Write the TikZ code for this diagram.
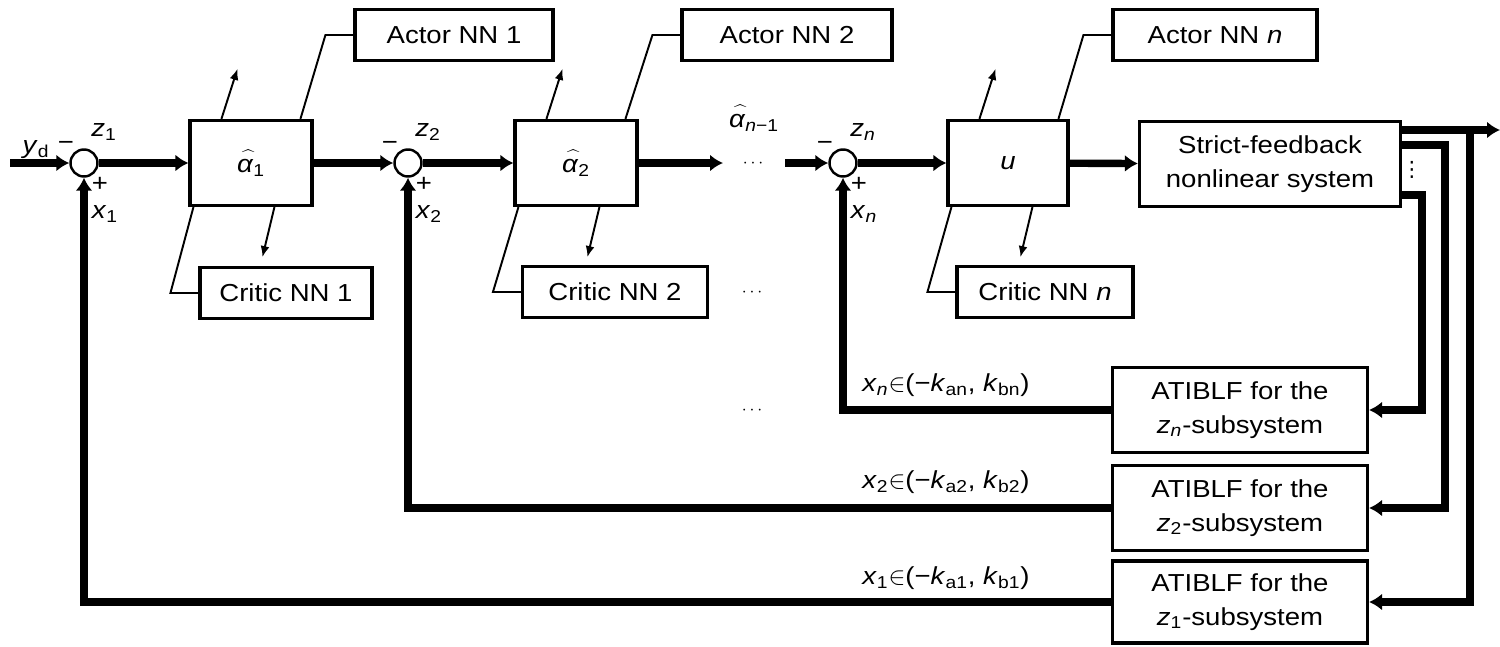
\documentclass[tikz,border=0pt]{standalone}
\usepackage{fontspec}
\usepackage{graphicx}
\setmainfont[FakeStretch=1.12]{Liberation Sans}
\newfontfamily\symfont{DejaVu Sans}
\usetikzlibrary{calc,positioning,arrows.meta}

\newcommand{\ahat}[1]{\rlap{\hspace{0.06em}\raisebox{0.16em}{\scalebox{1.25}[1]{$\widehat{\phantom{\mbox{\itshape α}}}$}}}\textit{α}\textsubscript{#1}}
\newcommand{\vsub}[2]{\textit{#1}\textsubscript{#2}}
\newcommand{\range}[3]{\vsub{x}{#1}$\in$(−\vsub{k}{#2}, \vsub{k}{#3})}
\newcommand{\hdots}{{\fontsize{10}{10}\selectfont$\cdots$}}

\tikzset{
   block/.style={ rectangle, draw=black, line width=1.8pt, minimum height=1.7cm, inner sep=0pt, text centered},
   nnbox/.style={ rectangle, draw=black, line width=1.8pt, minimum height=1.02cm, inner sep=0pt, text centered},
   sumnode/.style={ circle, draw=black, line width=1.4pt, minimum size=0.54cm, inner sep=0pt},
   signal/.style={ line width=4.2pt, -{Latex[length=0.26cm,width=0.34cm]}},
   nnline/.style={ line width=1.1pt},
   nnarrow/.style={ line width=1.1pt, -{Latex[length=0.22cm,width=0.18cm]}},
   lbl/.style={ inner sep=0pt}
}

\begin{document}
\begin{tikzpicture}[x=0.02cm, y=-0.02cm, font=\fontsize{14}{19}\selectfont]
  \useasboundingbox (0,0) rectangle (1500,646);

  % forward path
  \node[sumnode] at (84,163)   (s1) {};
  \node[block, minimum width=2.44cm] at (251,163) (a1) {\ahat{1}};
  \node[nnbox, minimum width=3.96cm] at (454,35)  (actor1)  {Actor NN 1};
  \node[nnbox, minimum width=3.44cm] at (286,293) (critic1) {Critic NN 1};

  \node[sumnode] at (408,163)  (s2) {};
  \node[block, minimum width=2.44cm] at (576,163) (a2) {\ahat{2}};
  \node[nnbox, minimum width=4.2cm]  at (787,35)  (actor2)  {Actor NN 2};
  \node[nnbox, minimum width=3.7cm]  at (615,292) (critic2) {Critic NN 2};

  \node[sumnode] at (843,163)  (sn) {};
  \node[block, minimum width=2.4cm]  at (1008,163) (u) {\textit{u}};
  \node[nnbox, minimum width=4.08cm] at (1215,35)  (actorn)  {Actor NN \textit{n}};
  \node[nnbox, minimum width=3.52cm] at (1045,292) (criticn) {Critic NN \textit{n}};

  \node[block, minimum width=5.22cm, align=center] at (1270,164) (plant) {Strict-feedback\\nonlinear system};

  % barrier blocks
  \node[block, minimum width=5.1cm, align=center] at (1240,410) (blfn) {ATIBLF for the\\\vsub{z}{\textit{n}}-subsystem};
  \node[block, minimum width=5.1cm, align=center] at (1240,508) (blf2) {ATIBLF for the\\\vsub{z}{2}-subsystem};
  \node[block, minimum width=5.1cm, minimum height=1.64cm, align=center] at (1240,602) (blf1) {ATIBLF for the\\\vsub{z}{1}-subsystem};

  % labels
  \node[lbl] at (36,150) (ydlbl) {\vsub{y}{d}};
  \foreach \s/\k in {s1/1, s2/2, sn/\textit{n}}{
    \node[lbl] at ($(\s)+(-18,-17)$) (\s-minus) {−};
    \node[lbl] at ($(\s)+(20,-31)$)  (\s-z)     {\vsub{z}{\k}};
    \node[lbl] at ($(\s)+(16,21)$)   (\s-plus)  {+};
    \node[lbl] at ($(\s)+(21,51)$)   (\s-x)     {\vsub{x}{\k}};
  }
  \node[lbl] at (754,118) (anm1) {\ahat{\textit{n}−1}};
  \node[lbl] at (753,164) (dotsa) {\hdots};
  \node[lbl] at (752,293) (dotsb) {\hdots};
  \node[lbl] at (752,411) (dotsc) {\hdots};
  \node[lbl] at (1412,170) (vdots) {\symfont\fontsize{12}{12}\selectfont ⋮};

  \node[lbl] at (946,385) (rangen) {\range{\textit{n}}{an}{bn}};
  \node[lbl] at (946,482) (range2) {\range{2}{a2}{b2}};
  \node[lbl] at (946,578) (range1) {\range{1}{a1}{b1}};

  % main signal path
  \coordinate (ydin) at (10,163);
  \coordinate (gapL) at (723,163);
  \coordinate (gapR) at (785,163);
  \draw[signal] (ydin) -- (s1);
  \draw[signal] (s1) -- (a1);
  \draw[signal] (a1) -- (s2);
  \draw[signal] (s2) -- (a2);
  \draw[signal] (a2) -- (gapL);
  \draw[signal] (gapR) -- (sn);
  \draw[signal] (sn) -- (u);
  \draw[signal] (u) -- (plant);

  % actor / critic links
  \foreach \blk/\act/\crt in {a1/actor1/critic1, a2/actor2/critic2, u/actorn/criticn}{
    \draw[nnline]  ($(\blk.north west)+(112,0)$) -- ($(\act.west)+(-28,0)$) -- (\act.west);
    \draw[nnarrow] ($(\blk.north west)+(33,0)$) -- ++(16,-50);
    \draw[nnline]  ($(\blk.south west)+(5,0)$) -- ($(\crt.west)+(-28,0)$) -- (\crt.west);
    \draw[nnarrow] ($(\blk.south west)+(86,0)$) -- ++(-12,50);
  }

  % states to barrier blocks
  \coordinate (yout) at (1500,130);
  \coordinate (tap1) at (1470,130);
  \coordinate (tap2) at (1445,145);
  \coordinate (tapn) at (1422,195);
  \draw[signal] (plant.east |- yout) -- (yout);
  \draw[signal] (tap1) |- (blf1.east);
  \draw[signal] (plant.east |- tap2) -- (tap2) |- (blf2.east);
  \draw[signal] (plant.east |- tapn) -- (tapn) |- (blfn.east);

  % feedback
  \draw[signal] (blf1) -| (s1);
  \draw[signal] (blf2) -| (s2);
  \draw[signal] (blfn) -| (sn);
\end{tikzpicture}
\end{document}
